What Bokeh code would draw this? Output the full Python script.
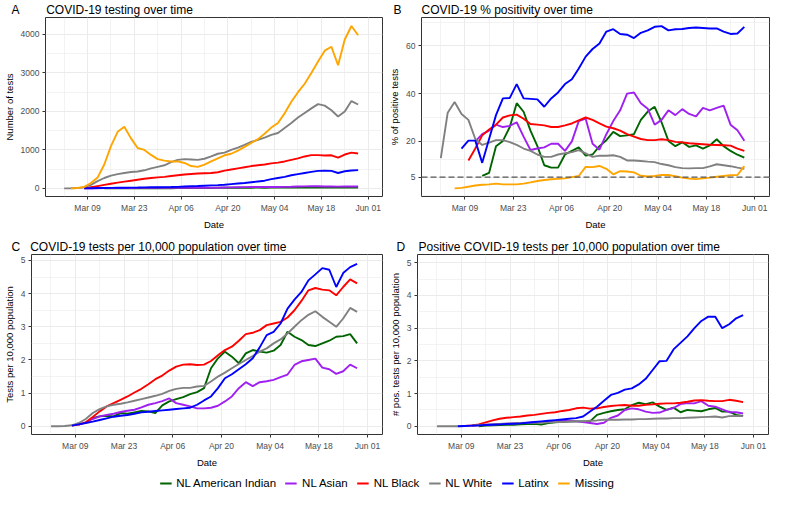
import numpy as np
from bokeh.plotting import figure
from bokeh.models import (Range1d, FixedTicker, DatetimeTickFormatter, Span, Legend, LegendItem)
from bokeh.layouts import column, row
from bokeh.embed import file_html
from bokeh.resources import INLINE

FONT = "Liberation Sans"

groups = ["NL American Indian", "NL Asian", "NL Black", "NL White", "Latinx", "Missing"]
colors = ["#006400", "#A020F0", "#FF0000", "#808080", "#0000FF", "#FFA500"]

# every series is sampled every 2 days and ends on this date
last_date = "2020-05-29"
x_ticks = ["2020-03-09", "2020-03-23", "2020-04-06", "2020-04-20", "2020-05-04", "2020-05-18", "2020-06-01"]
x_minor = ["2020-03-02", "2020-03-16", "2020-03-30", "2020-04-13", "2020-04-27", "2020-05-11", "2020-05-25"]

# ---- A: number of tests
tests_amind = [0, 1, 2, 2, 3, 3, 3, 4, 4, 4, 5, 6, 6, 7, 8, 8, 9, 15, 17, 18,
               17, 15, 18, 19, 18, 19, 19, 20, 24, 22, 21, 20, 21, 21, 21, 22, 23, 23, 21]
tests_asian = [0, 2, 4, 6, 8, 9, 10, 11, 12, 13, 14, 15, 16, 17, 18, 17, 16, 16, 15, 16,
               18, 22, 26, 30, 33, 35, 34, 35, 36, 37, 40, 44, 50, 53, 54, 55, 50, 48, 45, 48, 51, 50]
tests_black = [0, 30, 60, 90, 120, 150, 175, 200, 225, 250, 270, 285, 300, 320, 340, 360, 375, 385, 395, 400,
               420, 460, 490, 520, 550, 580, 600, 620, 650, 670, 700, 740, 780, 830, 865, 865, 855, 860, 800, 880,
               930, 905]
tests_white = [0, 3, 8, 30, 90, 190, 270, 330, 370, 400, 425, 440, 470, 520, 560, 600, 680, 740, 760, 750,
               740, 770, 830, 900, 930, 1000, 1060, 1130, 1210, 1260, 1320, 1390, 1440, 1570, 1700, 1840, 1960,
               2080, 2190, 2150, 2030, 1870, 2000, 2270, 2180]
tests_latinx = [0, 5, 8, 10, 12, 15, 18, 20, 22, 25, 28, 30, 33, 36, 40, 48, 55, 62, 70, 78,
                85, 95, 110, 125, 140, 160, 180, 200, 240, 270, 300, 340, 370, 400, 430, 455, 462, 455, 400, 445,
                465, 475]
tests_missing = [0, 10, 40, 140, 280, 620, 1100, 1470, 1600, 1300, 1050, 1000, 870, 760, 720, 700, 700, 660, 580, 560,
                 620, 700, 780, 860, 900, 980, 1080, 1180, 1280, 1420, 1580, 1700, 1950, 2250, 2500, 2720, 3000, 3300,
                 3580, 3680, 3200, 3870, 4220, 3980]

# ---- B: % positive tests
pct_amind = [5.5, 6.8, 18, 20.2, 26, 36, 32.4, 24.5, 18, 10, 9, 9, 14.5, 16, 17.5, 14, 14.5, 18, 20.5, 24,
             22.2, 22.5, 23, 29, 32.5, 34.5, 28, 20.2, 18, 19.6, 17.7, 18.3, 17, 18.3, 20.9, 18, 16, 14.4, 13.2]
pct_asian = [20, 23, 24.5, 27, 26, 26.5, 28, 22, 16.4, 17, 17.5, 19, 19, 16, 20, 28.5, 29.5, 19, 16.5, 23,
             28.5, 33, 40, 40.5, 36, 33.7, 27, 29, 33, 31, 33.5, 31.5, 30.5, 34, 33, 34, 35, 27, 24.7, 20.3]
pct_black = [12, 17, 22.5, 25, 27, 30, 30.9, 31.2, 29.5, 27.3, 27, 26.7, 26, 26, 26.7, 27.5, 28.8, 30, 29, 27.5,
             26.2, 25.5, 24.5, 23, 22, 21, 20.5, 20.5, 20.9, 20.5, 19.8, 19.6, 19.2, 19, 18.8, 18.6, 18.5, 18.4,
             18.2, 17, 16]
pct_white = [13, 32, 36.5, 31.5, 29, 21, 18.5, 19.5, 20.5, 20.5, 19.7, 18.5, 17, 16, 14.5, 13.5, 13.5, 14.5, 15, 15.5,
             16.3, 15, 13.5, 14, 14, 14.2, 13.5, 12, 12, 11.8, 11.5, 11.3, 10.5, 10, 9.2, 8.8, 8.7, 8.8, 8.8, 9.5,
             10.4, 10, 9.6, 9, 8.5]
pct_latinx = [17, 20.3, 20.3, 11, 21, 31, 38, 38.2, 44, 38, 37.8, 37.6, 34.5, 38, 40.5, 44, 46, 50.5, 55.5, 58.7,
              61, 66, 67, 65, 64.7, 63.3, 65.5, 66.5, 68, 68.3, 66.5, 67, 67.1, 67.5, 67.7, 67.5, 67.3, 67.3, 66, 65,
              65.2, 68]
pct_missing = [0.3, 0.5, 1, 1.5, 1.8, 2, 2.3, 2, 2, 2, 2.3, 2.8, 3.4, 3.8, 4.1, 4.3, 4.5, 5, 5.5, 9.3,
               9.2, 9.7, 8.5, 6.2, 7.5, 7.4, 7, 5.6, 5.3, 5.5, 5.9, 5.9, 5.4, 4.8, 4.4, 4.2, 4.5, 4.8, 5.2, 5.5,
               5.8, 5.9, 9.6]
pct_threshold = 5

# ---- C: tests per 10,000 population
rate_amind = [0.25, 0.3, 0.32, 0.3, 0.4, 0.38, 0.42, 0.46, 0.45, 0.4, 0.63, 0.75, 0.82, 0.88, 0.97, 1.03, 1.15, 1.75,
              2.05, 2.25, 2.1, 1.9, 2.2, 2.3, 2.25, 2.22, 2.28, 2.45, 2.85, 2.7, 2.6, 2.45, 2.42, 2.5, 2.58, 2.7,
              2.72, 2.78, 2.5]
rate_asian = [0.05, 0.12, 0.22, 0.3, 0.34, 0.38, 0.43, 0.47, 0.5, 0.57, 0.65, 0.7, 0.76, 0.84, 0.7, 0.65, 0.6, 0.54,
              0.54, 0.56, 0.62, 0.75, 0.9, 1.15, 1.33, 1.21, 1.33, 1.36, 1.4, 1.48, 1.56, 1.85, 1.96, 2.0, 2.04,
              1.77, 1.72, 1.58, 1.66, 1.86, 1.75]
rate_black = [0.02, 0.05, 0.12, 0.28, 0.45, 0.6, 0.7, 0.8, 0.9, 1.02, 1.13, 1.27, 1.42, 1.53, 1.68, 1.8, 1.86, 1.87,
              1.85, 1.86, 1.97, 2.14, 2.3, 2.4, 2.58, 2.78, 2.82, 2.9, 3.05, 3.1, 3.15, 3.28, 3.5, 3.78, 4.1, 4.17,
              4.12, 4.1, 3.95, 4.2, 4.43, 4.31]
rate_white = [0, 0, 0.01, 0.03, 0.1, 0.22, 0.4, 0.52, 0.6, 0.65, 0.68, 0.72, 0.77, 0.82, 0.87, 0.92, 0.98, 1.07,
              1.13, 1.16, 1.16, 1.2, 1.22, 1.35, 1.5, 1.62, 1.75, 1.88, 2.0, 2.12, 2.25, 2.35, 2.5, 2.62, 2.8, 3.0,
              3.2, 3.36, 3.47, 3.3, 3.15, 3.0, 3.25, 3.57, 3.45]
rate_latinx = [0.02, 0.06, 0.1, 0.14, 0.19, 0.24, 0.29, 0.32, 0.34, 0.38, 0.42, 0.44, 0.46, 0.48, 0.5, 0.52, 0.54,
               0.56, 0.65, 0.78, 0.9, 1.15, 1.45, 1.57, 1.72, 1.87, 2.05, 2.38, 2.75, 2.85, 3.1, 3.55, 3.82, 4.05,
               4.4, 4.58, 4.77, 4.72, 4.2, 4.62, 4.8, 4.9]

# ---- D: positive tests per 10,000 population
posrate_amind = [0, 0.02, 0.03, 0.04, 0.05, 0.05, 0.06, 0.07, 0.08, 0.05, 0.1, 0.12, 0.14, 0.15, 0.15, 0.15, 0.15,
                 0.35, 0.41, 0.46, 0.5, 0.52, 0.65, 0.72, 0.68, 0.73, 0.6, 0.5, 0.57, 0.43, 0.5, 0.48, 0.46, 0.52,
                 0.56, 0.45, 0.45, 0.35, 0.31]
posrate_asian = [0.01, 0.03, 0.05, 0.06, 0.07, 0.08, 0.09, 0.1, 0.11, 0.12, 0.13, 0.14, 0.16, 0.17, 0.16, 0.15, 0.13,
                 0.1, 0.07, 0.11, 0.26, 0.33, 0.5, 0.55, 0.52, 0.45, 0.41, 0.42, 0.5, 0.56, 0.68, 0.71, 0.7, 0.77,
                 0.63, 0.6, 0.52, 0.43, 0.43, 0.39]
posrate_black = [0.01, 0.03, 0.06, 0.12, 0.18, 0.23, 0.26, 0.28, 0.3, 0.33, 0.35, 0.38, 0.41, 0.43, 0.47, 0.5, 0.55,
                 0.57, 0.54, 0.55, 0.59, 0.62, 0.64, 0.65, 0.63, 0.63, 0.66, 0.67, 0.69, 0.7, 0.7, 0.72, 0.75, 0.79,
                 0.8, 0.78, 0.77, 0.77, 0.81, 0.78, 0.74]
posrate_white = [0, 0, 0, 0, 0.01, 0.02, 0.04, 0.05, 0.06, 0.07, 0.08, 0.09, 0.1, 0.1, 0.11, 0.11, 0.12, 0.13, 0.13,
                 0.14, 0.15, 0.15, 0.17, 0.18, 0.2, 0.2, 0.2, 0.21, 0.21, 0.22, 0.22, 0.23, 0.24, 0.24, 0.25, 0.25,
                 0.26, 0.27, 0.28, 0.29, 0.3, 0.27, 0.31, 0.32, 0.31]
posrate_latinx = [0, 0.01, 0.02, 0.03, 0.04, 0.05, 0.06, 0.07, 0.08, 0.09, 0.11, 0.13, 0.15, 0.17, 0.19, 0.21, 0.23,
                  0.25, 0.3, 0.45, 0.6, 0.78, 0.96, 1.02, 1.12, 1.16, 1.28, 1.45, 1.72, 1.99, 2.0, 2.35, 2.55, 2.75,
                  3.0, 3.22, 3.35, 3.35, 3.0, 3.12, 3.3, 3.4]

DAY_MS = 86400000.0
NBSP = "\u00a0"


def to_ms(s):
    return float(np.datetime64(s, "ms").astype("int64"))


def dates_for(vals):
    end = np.datetime64(last_date, "D")
    n = len(vals)
    return end - np.timedelta64(2, "D") * np.arange(n - 1, -1, -1)


X0 = to_ms("2020-03-09") - 12.6 * DAY_MS
X1 = to_ms("2020-03-09") + 88.3 * DAY_MS


def panel(tag, title, ylabel, series, yr, yticks, yminor, w, h, left, right, top, bottom,
          tag_offset, n_space, hline=None):
    p = figure(width=w, height=h, x_axis_type="datetime",
               x_range=Range1d(X0, X1), y_range=Range1d(yr[0], yr[1]),
               output_backend="svg", toolbar_location=None,
               min_border_left=left, min_border_right=right,
               min_border_top=top, min_border_bottom=bottom)
    p.background_fill_color = "white"
    p.border_fill_color = "white"
    p.outline_line_color = "#333333"
    p.outline_line_width = 1

    p.title.text = tag + NBSP * n_space + title
    p.title.offset = tag_offset
    p.title.text_font = FONT
    p.title.text_font_size = "12px"
    p.title.text_font_style = "normal"
    p.title.text_color = "black"
    p.title.align = "left"
    p.title.standoff = 1

    p.xaxis.ticker = FixedTicker(ticks=[to_ms(d) for d in x_ticks], minor_ticks=[to_ms(d) for d in x_minor])
    fmt = "%b %d"
    p.xaxis.formatter = DatetimeTickFormatter(milliseconds=fmt, seconds=fmt, minsec=fmt, minutes=fmt,
                                              hourmin=fmt, hours=fmt, days=fmt, months=fmt, years=fmt)
    p.yaxis.ticker = FixedTicker(ticks=yticks, minor_ticks=yminor)
    p.xaxis.axis_label = "Date"
    p.yaxis.axis_label = ylabel

    p.axis.axis_line_color = None
    p.axis.major_tick_line_color = "#333333"
    p.axis.major_tick_out = 3
    p.axis.major_tick_in = 0
    p.axis.minor_tick_line_color = None
    p.axis.major_label_text_font = FONT
    p.axis.major_label_text_font_size = "8.5px"
    p.axis.major_label_text_color = "#4D4D4D"
    p.axis.major_label_standoff = 2
    p.axis.axis_label_text_font = FONT
    p.axis.axis_label_text_font_size = "9.5px"
    p.axis.axis_label_text_font_style = "normal"
    p.axis.axis_label_text_color = "black"
    p.axis.axis_label_standoff = 3

    p.grid.grid_line_color = "#EBEBEB"
    p.grid.grid_line_width = 1
    p.grid.minor_grid_line_color = "#EBEBEB"
    p.grid.minor_grid_line_width = 0.6

    for vals, color in series:
        p.line(dates_for(vals), vals, line_color=color, line_width=1.9)

    if hline is not None:
        p.add_layout(Span(location=hline, dimension="width", line_color="#555555",
                          line_width=1.4, line_dash="6 3"))
    return p


pA = panel("A", "COVID-19 testing over time", "Number of tests",
           list(zip([tests_amind, tests_asian, tests_black, tests_white, tests_latinx, tests_missing], colors)),
           (-211, 4441), [0, 1000, 2000, 3000, 4000], [500, 1500, 2500, 3500],
           386, 232, 37, 4, 16, 27, -34, 8)
pB = panel("B", "COVID-19 % positivity over time", "% of positive tests",
           list(zip([pct_amind, pct_asian, pct_black, pct_white, pct_latinx, pct_missing], colors)),
           (-3.1, 71.9), [5, 20, 40, 60], [-2.5, 12.5, 30, 50, 70],
           387, 232, 30, 4, 16, 27, -28, 6, hline=pct_threshold)
pC = panel("C", "COVID-19 tests per 10,000 population over time", "Tests per 10,000 population",
           list(zip([rate_amind, rate_asian, rate_black, rate_white, rate_latinx], colors[:5])),
           (-0.247, 5.18), [0, 1, 2, 3, 4, 5], [0.5, 1.5, 2.5, 3.5, 4.5],
           386, 238, 22, 4, 22, 26, -20, 3)
pD = panel("D", "Positive COVID-19 tests per 10,000 population over time", "# pos. tests per 10,000 population",
           list(zip([posrate_amind, posrate_asian, posrate_black, posrate_white, posrate_latinx], colors[:5])),
           (-0.25, 5.25), [0, 1, 2, 3, 4, 5], [0.5, 1.5, 2.5, 3.5, 4.5],
           387, 238, 26, 5, 22, 26, -21, 4)

# legend strip: the series are drawn but fall outside this strip's ranges, only the legend shows
pL = figure(width=773, height=25, output_backend="svg", toolbar_location=None,
            x_range=Range1d(0, 1), y_range=Range1d(0, 1),
            x_axis_location=None, y_axis_location=None,
            min_border=0, min_border_left=0, min_border_right=0, min_border_top=0, min_border_bottom=0)
pL.grid.visible = False
pL.outline_line_color = None
items = []
for g, c, vals in zip(groups, colors,
                      [tests_amind, tests_asian, tests_black, tests_white, tests_latinx, tests_missing]):
    r = pL.line(dates_for(vals), vals, line_color=c, line_width=2.2)
    items.append(LegendItem(label=g, renderers=[r]))
leg = Legend(items=items, orientation="horizontal", location="center",
             label_text_font=FONT, label_text_font_size="11.5px", label_text_color="black",
             glyph_width=12, glyph_height=12, label_height=12, label_standoff=5, spacing=9,
             border_line_color=None, background_fill_alpha=0, padding=0, margin=0)
pL.add_layout(leg, "center")

layout = column(row(pA, pB), row(pC, pD), pL)

with open("out.html", "w") as f:
    f.write(file_html(layout, INLINE))
